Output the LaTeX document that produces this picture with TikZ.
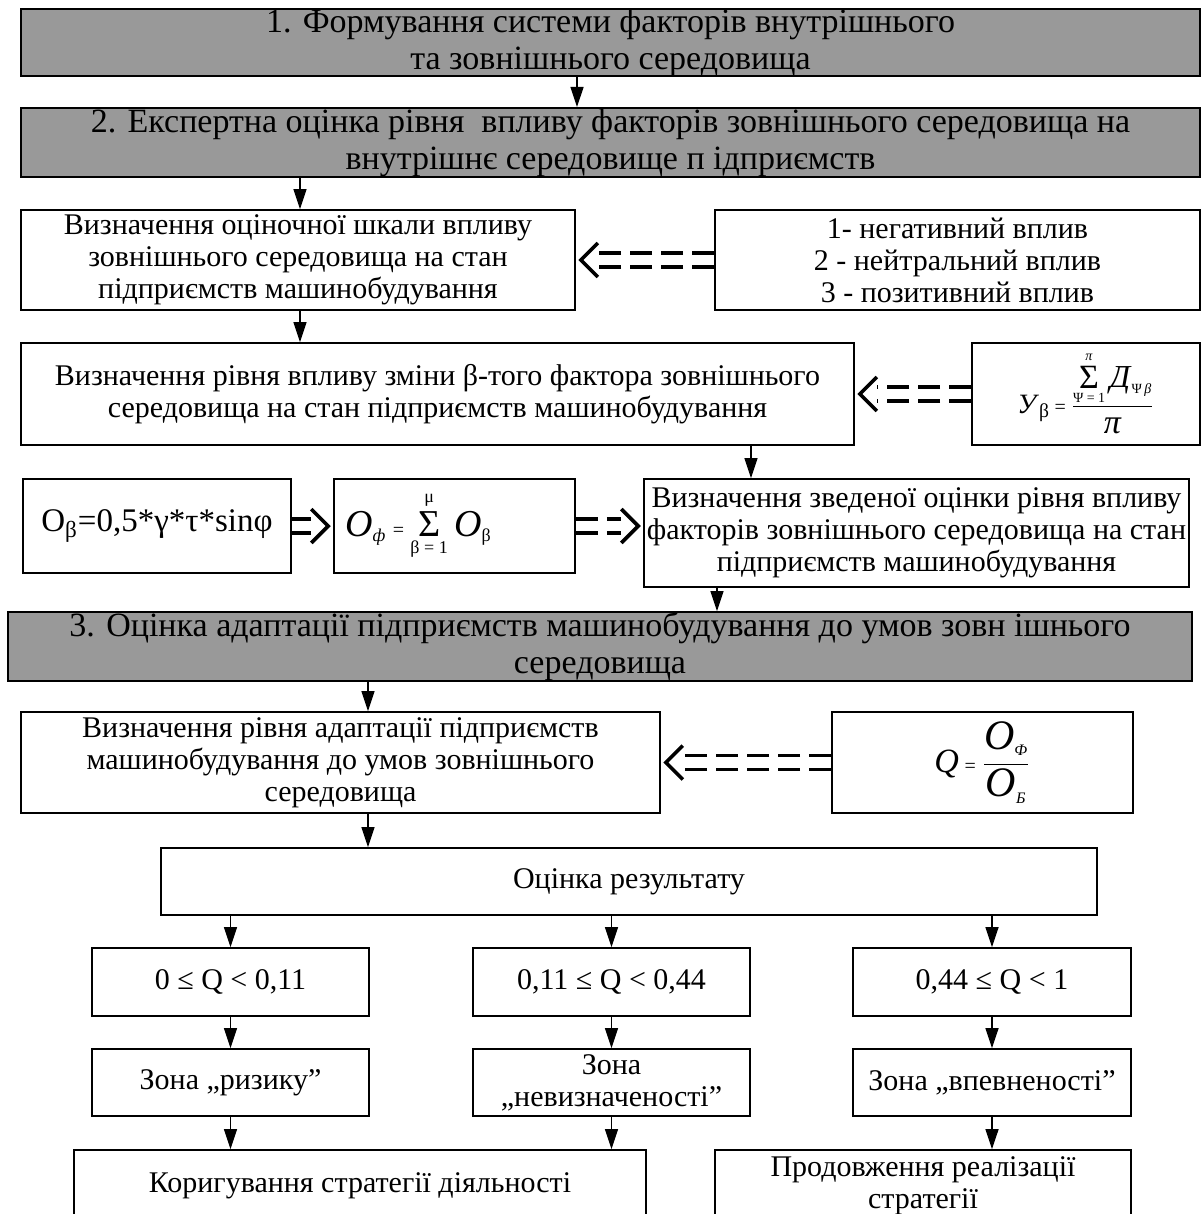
\documentclass[tikz,border=0pt]{standalone}
\usepackage{fontspec}
\usepackage{amsmath}
\setmainfont{Liberation Serif}
\usetikzlibrary{arrows.meta,calc}

% Taille de police
\newcommand{\taille}[1]{\fontsize{#1}{#1}\selectfont}
% Symbole avec bornes dessus et dessous (decalage, haut, symbole, bas)
\newcommand{\pile}[4]{\raisebox{#1}{\vbox{\offinterlineskip\halign{\hfil##\hfil\cr#2\cr\noalign{\kern2.5pt}#3\cr\noalign{\kern2.5pt}#4\cr}}}}
% Fleche creuse en tirets (depart, pointe)
\newcommand{\dimpl}[2]{%
	\path ($(#2)!8.5pt!(#1)$) coordinate (base);
	\draw[tirets] ($(#1)!3.5pt!90:(#2)$) -- ($(base)!3.5pt!-90:(#1)$);
	\draw[tirets] ($(#1)!3.5pt!-90:(#2)$) -- ($(base)!3.5pt!90:(#1)$);
	\draw[line width=1.8pt] ($(#2)!12pt!45:(#1)$) -- (#2) -- ($(#2)!12pt!-45:(#1)$);
}

\begin{document}
\begin{tikzpicture}[x=0.5pt,y=-0.5pt,
	taille/.style 2 args={minimum width=#1*0.5pt, minimum height=#2*0.5pt},
	boite/.style={draw, line width=0.8pt, inner sep=0pt, align=center,
		font=\fontsize{15}{16}\selectfont},
	titre/.style={boite, fill=gray!80, line width=1pt,
		font=\fontsize{17}{18.5}\selectfont},
	fleche/.style={-{Triangle[length=10pt,width=6.5pt]}, line width=0.6pt},
	tirets/.style={line width=1.8pt, dash pattern=on 11pt off 4.5pt}]
	% Cadre de la figure
	\path[use as bounding box, fill=white] (0,0) rectangle (1202,1214);
	% Etapes 1 et 2
	\node[titre, taille={1179}{67}] (etape1) at (610.5,42.5) {1. Формування системи факторів внутрішнього\\та зовнішнього середовища};
	\node[titre, taille={1179}{69}] (etape2) at (610.5,142.5) {2. Експертна оцінка рівня \ впливу факторів зовнішнього середовища на\\внутрішнє середовище п ідприємств};
	% Echelle et niveau d'influence
	\node[boite, taille={554}{100}] (echelle) at (298,260) {Визначення оціночної шкали впливу\\зовнішнього середовища на стан\\підприємств машинобудування};
	\node[boite, taille={485}{100}] (gradation) at (957.5,260) {1- негативний вплив\\2 - нейтральний вплив\\3 - позитивний вплив};
	\node[boite, taille={833}{102}] (niveau) at (437.5,394) {Визначення рівня впливу зміни β-того фактора зовнішнього\\середовища на стан підприємств машинобудування};
	\node[boite, taille={228}{102}] (formuleU) at (1086,394)
		{\taille{14}\textit{У}\textsubscript{β}\,{\taille{10}=}\,$\dfrac{\text{\pile{-7.2pt}{\taille{7}\textit{π}}{\taille{17}Σ}{\taille{7}Ψ = 1}\,\taille{16}\textit{Д}\textsubscript{\taille{7}Ψ\,\textit{β}}}}{\text{\taille{17}\textit{π}}}$};
	% Evaluation globale
	\node[boite, taille={268}{94}, font=\fontsize{16.5}{18}\selectfont] (obeta) at (157,526) {O\textsubscript{β}=0,5*γ*τ*sinφ};
	\node[boite, taille={241}{94}] (ophi) at (454.5,526)
		{\taille{19}\textit{O}\textsubscript{\taille{9}\textit{ф}}\,{\taille{10}=}\,\pile{-8.8pt}{\taille{9}μ}{Σ}{\taille{9}β = 1}\,\textit{O}\textsubscript{\taille{9}β}\rule{36pt}{0pt}};
	\node[boite, taille={545}{108}] (synthese) at (916.5,533) {Визначення зведеної оцінки рівня впливу\\факторів зовнішнього середовища на стан\\підприємств машинобудування};
	% Etape 3
	\node[titre, taille={1184}{67}] (etape3) at (600,646.5) {3. Оцінка адаптації підприємств машинобудування до умов зовн ішнього\\середовища};
	\node[boite, taille={639}{101}] (adaptation) at (340.5,762.5) {Визначення рівня адаптації підприємств\\машинобудування до умов зовнішнього\\середовища};
	\node[boite, taille={301}{101}] (formuleQ) at (982.5,762.5)
		{\taille{17}\textit{Q}\,{\taille{10}=}\,$\dfrac{\text{\taille{21}\textit{O}\textsubscript{\taille{8}\textit{Ф}}}}{\text{\taille{21}\textit{O}\textsubscript{\taille{8}\textit{Б}}}}$};
	% Resultat et zones
	\node[boite, taille={936}{67}] (resultat) at (629,881.5) {Оцінка результату};
	\node[boite, taille={277}{68}] (seuil1) at (230.5,982) {0 ≤ Q < 0,11};
	\node[boite, taille={277}{68}] (seuil2) at (611.5,982) {0,11 ≤ Q < 0,44};
	\node[boite, taille={278}{68}] (seuil3) at (992,982) {0,44 ≤ Q < 1};
	\node[boite, taille={277}{67}] (zone1) at (230.5,1082.5) {Зона „ризику”};
	\node[boite, taille={277}{67}] (zone2) at (611.5,1082.5) {Зона\\„невизначеності”};
	\node[boite, taille={278}{67}] (zone3) at (992,1082.5) {Зона „впевненості”};
	\node[boite, taille={572}{72}] (correction) at (360,1186) {Коригування стратегії діяльності};
	\node[boite, taille={416}{72}] (poursuite) at (923,1186) {Продовження реалізації\\стратегії};
	% Fleches pleines
	\draw[fleche] (577,0 |- etape1.south) -- (577,0 |- etape2.north);
	\draw[fleche] (300,0 |- etape2.south) -- (300,0 |- echelle.north);
	\draw[fleche] (300,0 |- echelle.south) -- (300,0 |- niveau.north);
	\draw[fleche] (751,0 |- niveau.south) -- (751,0 |- synthese.north);
	\draw[fleche] (717,0 |- synthese.south) -- (717,0 |- etape3.north);
	\draw[fleche] (368,0 |- etape3.south) -- (368,0 |- adaptation.north);
	\draw[fleche] (368,0 |- adaptation.south) -- (368,0 |- resultat.north);
	\draw[fleche] (seuil1.north |- resultat.south) -- (seuil1.north);
	\draw[fleche] (seuil2.north |- resultat.south) -- (seuil2.north);
	\draw[fleche] (seuil3.north |- resultat.south) -- (seuil3.north);
	\draw[fleche] (seuil1.south) -- (zone1.north);
	\draw[fleche] (seuil2.south) -- (zone2.north);
	\draw[fleche] (seuil3.south) -- (zone3.north);
	\draw[fleche] (zone1.south) -- (zone1.south |- correction.north);
	\draw[fleche] (zone2.south) -- (zone2.south |- correction.north);
	\draw[fleche] (zone3.south) -- (zone3.south |- poursuite.north);
	% Fleches en tirets
	\path (echelle.east) ++(2.5pt,0) coordinate (pointeA);
	\dimpl{gradation.west}{pointeA}
	\path (niveau.east) ++(2.5pt,0) coordinate (pointeB);
	\dimpl{formuleU.west}{pointeB}
	\path (ophi.west) ++(-2.5pt,0) coordinate (pointeC);
	\dimpl{obeta.east}{pointeC}
	\path (ophi.east -| synthese.west) ++(-2.5pt,0) coordinate (pointeD);
	\dimpl{ophi.east}{pointeD}
	\path (adaptation.east) ++(2.5pt,0) coordinate (pointeE);
	\dimpl{formuleQ.west}{pointeE}
\end{tikzpicture}
\end{document}
